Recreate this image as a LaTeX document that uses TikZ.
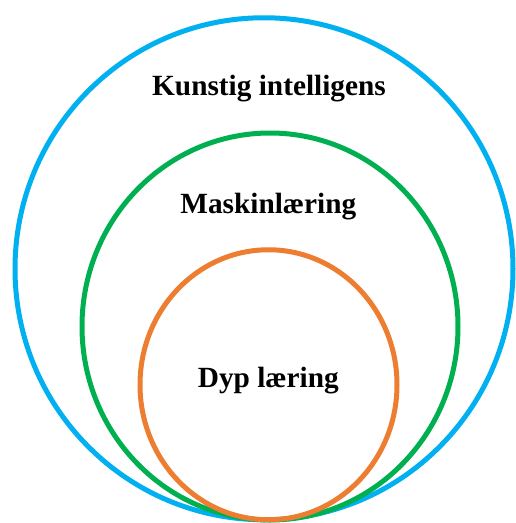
\documentclass[tikz,border=0pt]{standalone}
\usepackage{fontspec}
\setmainfont{Liberation Serif}
\definecolor{aiblue}{HTML}{00B0F0}
\definecolor{mlgreen}{HTML}{00B050}
\definecolor{dlorange}{HTML}{ED7D31}
\begin{document}
\begin{tikzpicture}[x=1pt,y=-1pt,
  ring/.style={line width=5pt},
  label/.style={anchor=base,inner sep=0pt,font=\fontsize{29.3}{34}\selectfont\bfseries}]
\useasboundingbox (0,0) rectangle (515,523);
% nested fields
\draw[ring,aiblue]   (264,268.75) ellipse [x radius=249,y radius=251];
\draw[ring,mlgreen]  (270,326.5)  ellipse [x radius=188,y radius=193.5];
\draw[ring,dlorange] (268.5,384.75) ellipse [x radius=128.5,y radius=135];
% titles
\node[label] (ai) at (269,95)    {Kunstig intelligens};
\node[label] (ml) at (268.3,213.3) {Maskinlæring};
\node[label] (dl) at (268.3,387.5) {Dyp læring};
\end{tikzpicture}
\end{document}
